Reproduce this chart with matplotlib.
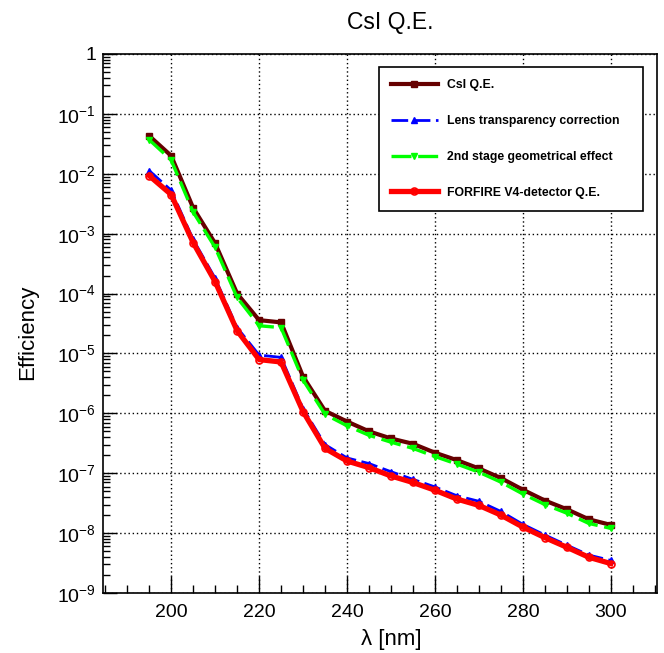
import numpy as np
import matplotlib
matplotlib.use("Agg")
import matplotlib.pyplot as plt
from matplotlib.ticker import FixedLocator, FuncFormatter, LogLocator, NullFormatter

plt.rcParams["font.family"] = ["Liberation Sans", "DejaVu Sans"]

wavelength = [195, 200, 205, 210, 215, 220, 225, 230, 235, 240, 245,
              250, 255, 260, 265, 270, 275, 280, 285, 290, 295, 300]

csi_qe = [4.3e-2, 2.0e-2, 2.7e-3, 6.9e-4, 1.0e-4, 3.6e-5, 3.3e-5, 4.1e-6,
          1.1e-6, 7.3e-7, 5.0e-7, 3.8e-7, 3.1e-7, 2.2e-7, 1.65e-7, 1.2e-7,
          8.3e-8, 5.3e-8, 3.5e-8, 2.5e-8, 1.7e-8, 1.37e-8]
lens_corr = [1.13e-2, 5.3e-3, 8.0e-4, 1.8e-4, 2.7e-5, 9.4e-6, 8.6e-6, 1.2e-6,
             3.0e-7, 1.8e-7, 1.45e-7, 1.06e-7, 7.9e-8, 5.9e-8, 4.2e-8, 3.4e-8,
             2.3e-8, 1.4e-8, 9.3e-9, 6.3e-9, 4.3e-9, 3.5e-9]
stage2_geom = [3.7e-2, 1.7e-2, 2.3e-3, 5.9e-4, 8.6e-5, 2.9e-5, 2.7e-5, 3.6e-6,
               9.6e-7, 6.2e-7, 4.3e-7, 3.3e-7, 2.6e-7, 1.9e-7, 1.42e-7, 1.04e-7,
               7.1e-8, 4.5e-8, 3.0e-8, 2.15e-8, 1.45e-8, 1.2e-8]
forfire_qe = [9.3e-3, 4.5e-3, 7.1e-4, 1.58e-4, 2.4e-5, 7.9e-6, 7.2e-6, 1.07e-6,
              2.6e-7, 1.6e-7, 1.24e-7, 9.0e-8, 7.0e-8, 5.2e-8, 3.7e-8, 2.9e-8,
              2.0e-8, 1.26e-8, 8.4e-9, 5.8e-9, 3.95e-9, 3.1e-9]

labels = ["CsI Q.E.", "Lens transparency correction",
          "2nd stage geometrical effect", "FORFIRE V4-detector Q.E."]

x_ticks = [200, 220, 240, 260, 280, 300]
y_ticks = [1e-9, 1e-8, 1e-7, 1e-6, 1e-5, 1e-4, 1e-3, 1e-2, 1e-1, 1]

W, H = 664, 653
fig = plt.figure(figsize=(W / 100, H / 100), dpi=100)
ax = fig.add_axes([103 / W, 1 - 593 / H, (657 - 103) / W, (593 - 54) / H])

ax.plot(wavelength, csi_qe, color="#660000", lw=3.0, marker="s", ms=5,
        label=labels[0], zorder=3)
ax.plot(wavelength, lens_corr, color="#0000ff", lw=2.0, ls=(0, (6, 2)),
        marker="^", ms=5, label=labels[1], zorder=4)
ax.plot(wavelength, stage2_geom, color="#00ff00", lw=2.4, ls=(0, (6, 2)),
        marker="v", ms=5, label=labels[2], zorder=5)
ax.plot(wavelength, forfire_qe, color="#ff0000", lw=3.8, marker="o", ms=5,
        mfc="none", mew=1.2, label=labels[3], zorder=6)

ax.set_yscale("log")
ax.set_xlim(184.5, 310.5)
ax.set_ylim(1e-9, 1)

ax.xaxis.set_major_locator(FixedLocator(x_ticks))
ax.xaxis.set_minor_locator(FixedLocator(np.arange(185, 311, 5)))
ax.yaxis.set_major_locator(FixedLocator(y_ticks))
ax.yaxis.set_minor_locator(LogLocator(base=10, subs=np.arange(2, 10), numticks=20))
ax.yaxis.set_minor_formatter(NullFormatter())
ax.yaxis.set_major_formatter(FuncFormatter(
    lambda v, p: "1" if abs(v - 1) < 1e-12 else r"$\mathdefault{10^{%d}}$" % round(np.log10(v))))

ax.tick_params(which="both", direction="in", top=False, right=False,
               labelsize=14, width=1, color="black")
ax.tick_params(axis="x", which="major", length=12, pad=8)
ax.tick_params(axis="x", which="minor", length=6)
ax.tick_params(axis="y", which="major", length=10, pad=5)
ax.tick_params(axis="y", which="minor", length=5)

ax.grid(True, which="major", color="black", ls=(0, (1, 2)), lw=1)
for s in ax.spines.values():
    s.set_linewidth(1.2)

fig.text(390 / W, 1 - 23 / H, "CsI Q.E.", ha="center", va="center", fontsize=16.5)
fig.text(391 / W, 1 - 639 / H, "λ [nm]", ha="center", va="center", fontsize=16)
fig.text(28 / W, 1 - 332 / H, "Efficiency", ha="center", va="center",
         rotation=90, fontsize=16)

leg = fig.legend(loc="upper left",
                 bbox_to_anchor=(379 / W, 1 - 208 / H, (643 - 379) / W, (208 - 67) / H),
                 mode="expand", borderaxespad=0,
                 prop={"weight": "bold", "size": 8.8},
                 handlelength=3.8, handletextpad=0.75, borderpad=1.0,
                 labelspacing=1.95, fancybox=False, framealpha=1,
                 edgecolor="black", numpoints=1)
leg.get_frame().set_linewidth(1.2)

fig.savefig("out.png", dpi=100)
